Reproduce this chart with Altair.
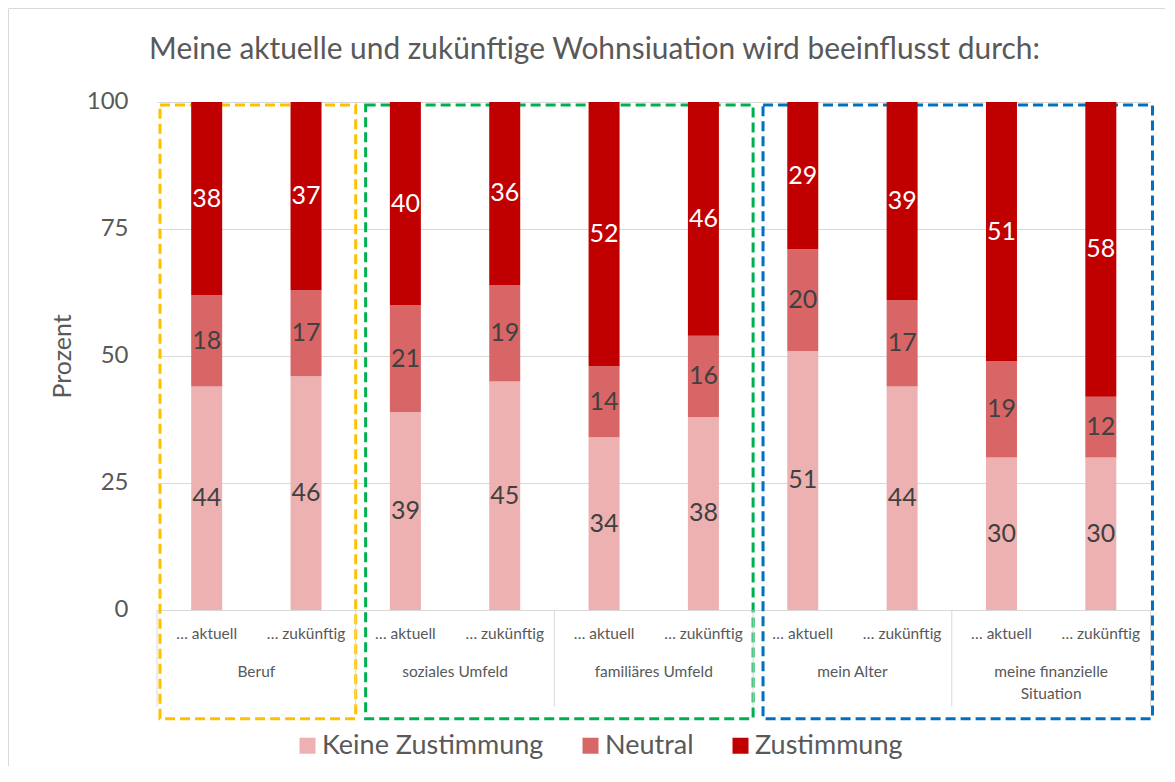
import altair as alt
import pandas as pd

title_text = "Meine aktuelle und zukünftige Wohnsiuation wird beeinflusst durch:"
groups = ["Beruf", "soziales Umfeld", "familiäres Umfeld", "mein Alter", "meine finanzielle\nSituation"]
periods = ["… aktuell", "… zukünftig"]
series = ["Keine Zustimmung", "Neutral", "Zustimmung"]
keine = [44, 46, 39, 45, 34, 38, 51, 44, 30, 30]
neutral = [18, 17, 21, 19, 14, 16, 20, 17, 19, 12]
zustimmung = [38, 37, 40, 36, 52, 46, 29, 39, 51, 58]
y_ticks = [0, 25, 50, 75, 100]
colors = ["#EDB1B1", "#D96666", "#C00000"]
box_first_group = [0, 1, 3]
box_last_group = [0, 2, 4]
box_colors = ["#FFC000", "#00B050", "#0070C0"]

FONT = "Lato"
GREY = "#595959"
GRID = "#D9D9D9"
BOX_INSET_LEFT = [0.03, 0.1, 0.1]
BOX_INSET_RIGHT = [0.0, 0.0, -0.02]

# ---- tables built from the arrays ----
rows = []
for i in range(len(keine)):
    vals = [keine[i], neutral[i], zustimmung[i]]
    base = 0
    for k, s in enumerate(series):
        rows.append({"x": i + 0.5, "series": s, "order": k, "value": vals[k],
                     "y0": base, "y1": base + vals[k], "mid": base + vals[k] / 2})
        base += vals[k]
bars_df = pd.DataFrame(rows)

sub_df = pd.DataFrame({"x": [i + 0.5 for i in range(2 * len(groups))],
                       "label": [periods[i % 2] for i in range(2 * len(groups))]})
grp_df = pd.DataFrame({"x": [2 * g + 1 for g in range(len(groups))], "label": groups})
sep_df = pd.DataFrame({"x": [2 * g for g in range(len(groups) + 1)]})
box_df = pd.DataFrame({"x0": [2 * g + d for g, d in zip(box_first_group, BOX_INSET_LEFT)],
                       "x1": [2 * g + 2 - d for g, d in zip(box_last_group, BOX_INSET_RIGHT)],
                       "c": box_colors})
one = pd.DataFrame({"k": [0]})
title_df = pd.DataFrame({"t": [title_text]})

xs = alt.Scale(domain=[0, 10], nice=False, zero=False, padding=0)
ys = alt.Scale(domain=[-30, 100], nice=False, zero=False, padding=0)

yaxis = alt.Axis(values=y_ticks, grid=True, gridColor=GRID, gridWidth=1, domain=False,
                 ticks=False, tickSize=0, labelFont=FONT, labelFontSize=24, labelColor=GREY,
                 labelPadding=29, title="Prozent", titleFont=FONT, titleFontSize=25,
                 titleColor=GREY, titleFontWeight="normal", titleX=-95, titleY=254,
                 titleAngle=270, titleAlign="center", titleBaseline="middle")

boxes = alt.Chart(box_df).mark_rect(fillOpacity=0, strokeWidth=3, strokeDash=[10, 5]).encode(
    x=alt.X("x0:Q", scale=xs, axis=None),
    x2="x1:Q",
    y=alt.datum(99.4, scale=ys),
    y2=alt.datum(-21.4),
    stroke=alt.Stroke("c:N", scale=None),
)

seps = alt.Chart(sep_df).mark_rule(color=GRID, strokeWidth=1).encode(
    x=alt.X("x:Q", scale=xs, axis=None),
    y=alt.datum(0, scale=ys, axis=yaxis),
    y2=alt.datum(-19),
)

bars = alt.Chart(bars_df).mark_bar(size=31).encode(
    x=alt.X("x:Q", scale=xs, axis=None),
    y=alt.Y("y0:Q", scale=ys, axis=yaxis),
    y2="y1:Q",
    color=alt.Color("series:N", scale=alt.Scale(domain=series, range=colors),
                    legend=alt.Legend(title=None, orient="none", legendX=137, legendY=630,
                                      direction="horizontal", symbolType="square",
                                      symbolSize=256, symbolStrokeWidth=0, labelFont=FONT,
                                      labelFontSize=27, labelColor=GREY, labelOffset=1,
                                      labelLimit=500, columnPadding=33, padding=0,
                                      symbolOffset=0)),
    order="order:Q",
)

labels = alt.Chart(bars_df).mark_text(font=FONT, fontSize=25, baseline="middle", align="center").encode(
    x=alt.X("x:Q", scale=xs, axis=None),
    y=alt.Y("mid:Q", scale=ys),
    text="value:Q",
    color=alt.condition(alt.datum.series == "Zustimmung", alt.value("white"), alt.value("#404040")),
)

sublabels = alt.Chart(sub_df).mark_text(font=FONT, fontSize=15.5, color=GREY, baseline="alphabetic").encode(
    x=alt.X("x:Q", scale=xs, axis=None),
    y=alt.datum(-5.7, scale=ys),
    text="label:N",
)

grouplabels = alt.Chart(grp_df).mark_text(font=FONT, fontSize=15.5, color=GREY, baseline="alphabetic",
                                          lineBreak="\n", lineHeight=22).encode(
    x=alt.X("x:Q", scale=xs, axis=None),
    y=alt.datum(-13.2, scale=ys),
    text="label:N",
)

title_mark = alt.Chart(title_df).mark_text(font=FONT, fontSize=29.9, color=GREY, baseline="alphabetic",
                                           align="center").encode(
    x=alt.value(437.5), y=alt.value(-43), text="t:N")

frame_left = alt.Chart(one).mark_rule(color=GRID, strokeWidth=1).encode(
    x=alt.value(-148.5), y=alt.value(-93.5), y2=alt.value(700))
frame_top = alt.Chart(one).mark_rule(color=GRID, strokeWidth=1).encode(
    x=alt.value(-148.5), x2=alt.value(1020), y=alt.value(-93.5))

chart = alt.layer(frame_left, frame_top, title_mark, boxes, seps, bars, labels, sublabels,
                  grouplabels).properties(
    width=993.5, height=660.4, autosize="none",
    padding={"left": 149, "top": 94, "right": 14, "bottom": 4},
).configure_view(stroke=None)

chart.save("out.html", embed_options={"renderer": "svg", "actions": False})
